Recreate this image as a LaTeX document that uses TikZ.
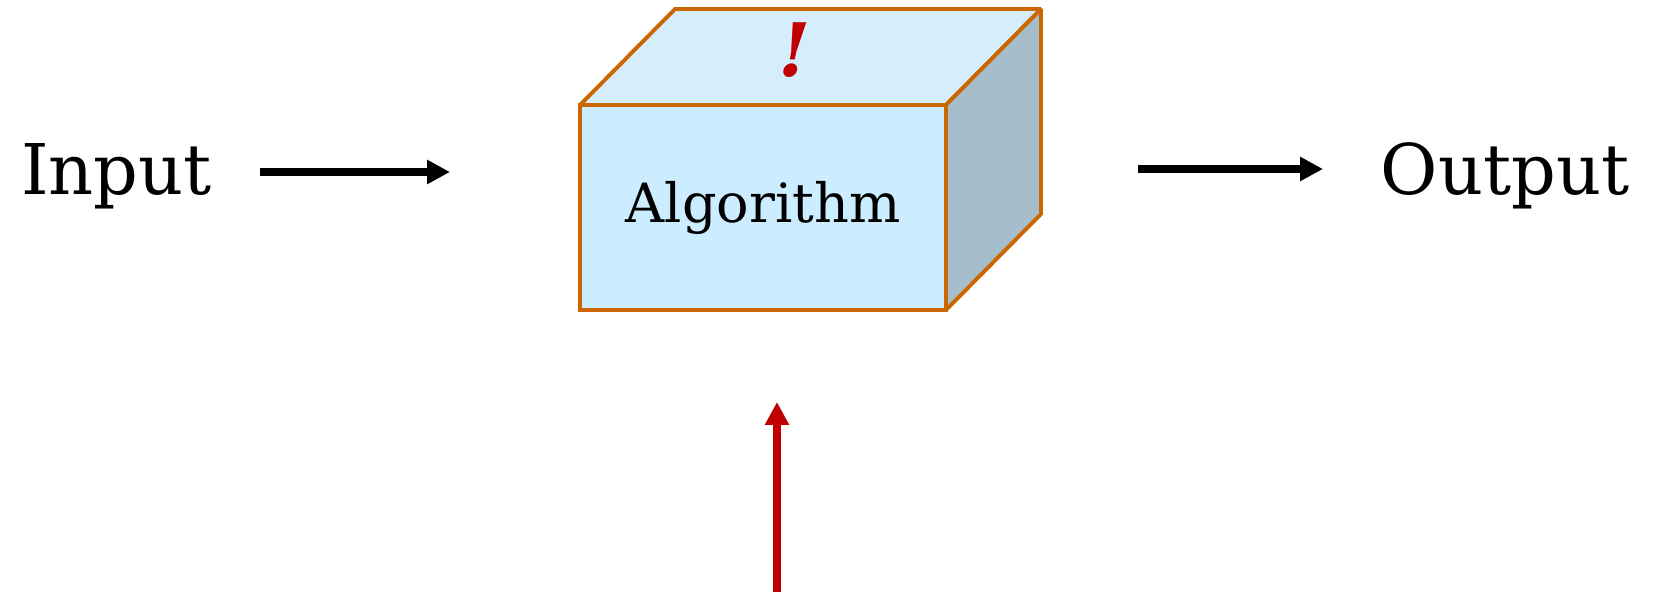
\documentclass[tikz,border=0pt]{standalone}
\usepackage{fontspec}
\setmainfont{DejaVu Serif}
\usetikzlibrary{arrows.meta,positioning}
\definecolor{rust}{RGB}{204,102,0}
\definecolor{sky}{RGB}{204,236,255}
\definecolor{skytop}{RGB}{214,238,252}
\definecolor{slate}{RGB}{166,190,204}
\definecolor{crimson}{RGB}{192,0,0}
\tikzset{
  >={Triangle[length=6.5pt,width=6.5pt]},
  flow/.style={->,line width=2.3pt,draw=#1},
  flow/.default=black,
  word/.style={font=\fontsize{19.9}{24}\selectfont,inner sep=0pt},
  face/.style={draw=rust,line width=1.1pt,fill=#1,line join=miter,miter limit=2},
  face/.default=sky,
}
\begin{document}
\begin{tikzpicture}
  \useasboundingbox (0,0) rectangle (16.59,-5.92);
  % front of the box
  \node[face,minimum width=3.66cm,minimum height=2.05cm,outer sep=0pt,
    font=\fontsize{15.4}{19}\selectfont] (algo) at (7.63,-2.075) {Algorithm};
  % top and side
  \draw[face=skytop] (algo.north west) -- ++(0.95,0.96) -- ++(3.66,0) -- (algo.north east) -- cycle;
  \draw[face=slate] (algo.north east) -- ++(0.95,0.96) -- ++(0,-2.05) -- (algo.south east) -- cycle;
  \node[text=crimson,font=\fontsize{21}{25}\selectfont\bfseries\itshape] (mark) at (7.95,-0.50) {!};
  \node[word,anchor=base] (input) at (1.165,-1.95) {Input};
  \node[word,anchor=base] (output) at (15.05,-1.95) {Output};
  \coordinate (in-from) at (2.60,-1.72);
  \coordinate (in-to) at (4.50,-1.72);
  \coordinate (out-from) at (11.38,-1.69);
  \coordinate (out-to) at (13.23,-1.69);
  \coordinate (hint-from) at (7.77,-5.92);
  \coordinate (hint-to) at (7.77,-4.02);
  \draw[flow] (in-from) -- (in-to);
  \draw[flow] (out-from) -- (out-to);
  \draw[flow=crimson] (hint-from) -- (hint-to);
\end{tikzpicture}
\end{document}
